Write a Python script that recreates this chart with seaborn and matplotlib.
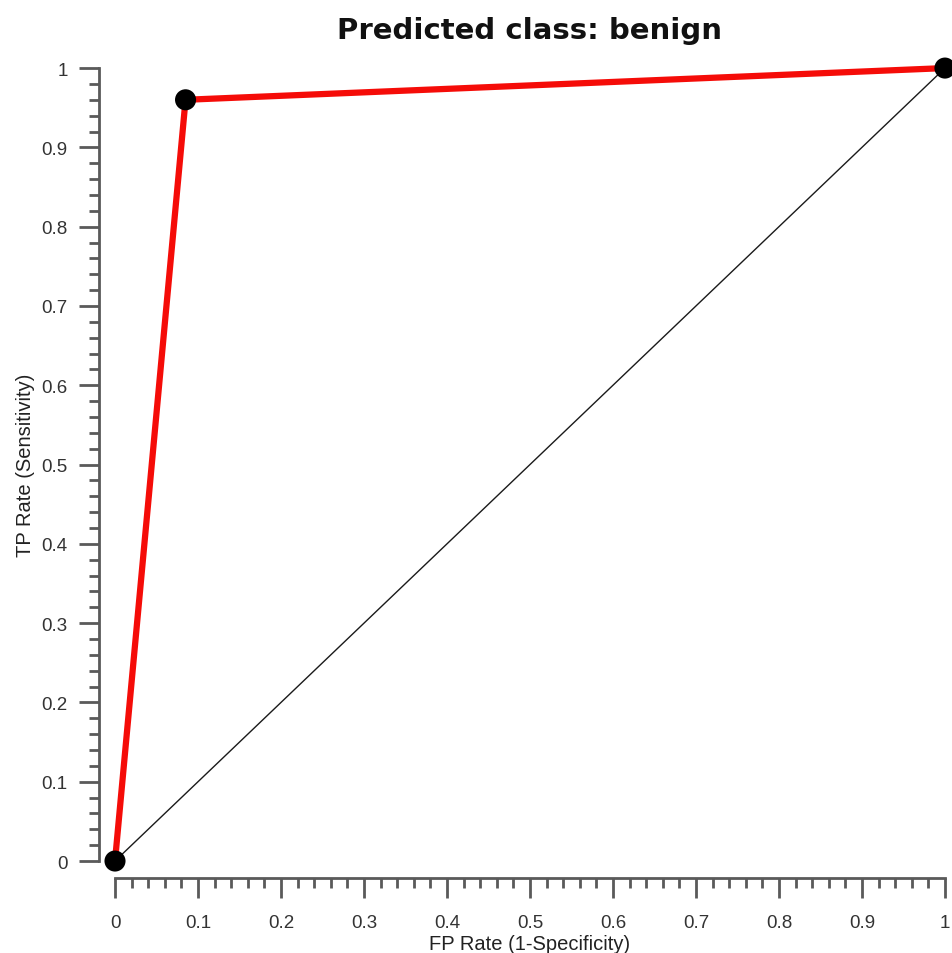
import matplotlib
matplotlib.use('Agg')
import matplotlib.pyplot as plt
from matplotlib.ticker import MultipleLocator
import seaborn as sns
import pandas as pd

# ROC points for the "benign" class
fpr = [0.0, 0.085, 1.0]
tpr = [0.0, 0.96, 1.0]
chance_x = [0.0, 1.0]
chance_y = [0.0, 1.0]

major_ticks = [0.0, 0.1, 0.2, 0.3, 0.4, 0.5, 0.6, 0.7, 0.8, 0.9, 1.0]
tick_labels = ['0', '0.1', '0.2', '0.3', '0.4', '0.5', '0.6', '0.7', '0.8', '0.9', '1']

title = 'Predicted class: benign'
x_label = 'FP Rate (1-Specificity)'
y_label = 'TP Rate (Sensitivity)'

sns.set_style('ticks')
plt.rcParams['font.family'] = ['Liberation Sans', 'DejaVu Sans']

axis_grey = '#5a5a5a'

fig = plt.figure(figsize=(9.52, 9.54), dpi=100)
ax = fig.add_axes([0.1208, 0.0964, 0.8718, 0.8312])

df = pd.DataFrame({'fpr': fpr, 'tpr': tpr})

# chance diagonal
ax.plot(chance_x, chance_y, color='#1a1a1a', lw=1.0, zorder=1)

# ROC curve
sns.lineplot(data=df, x='fpr', y='tpr', color='#f50c08', lw=4.5,
             sort=False, ax=ax, zorder=2, clip_on=False)
sns.scatterplot(data=df, x='fpr', y='tpr', color='black', s=230,
                edgecolor='none', ax=ax, zorder=3, clip_on=False)

ax.set_xlim(0, 1)
ax.set_ylim(0, 1)

ax.set_xticks(major_ticks)
ax.set_xticklabels(tick_labels)
ax.set_yticks(major_ticks)
ax.set_yticklabels(tick_labels)
ax.xaxis.set_minor_locator(MultipleLocator(0.02))
ax.yaxis.set_minor_locator(MultipleLocator(0.02))

for side in ['top', 'right']:
    ax.spines[side].set_visible(False)
ax.spines['left'].set_position(('outward', 11.5))
ax.spines['bottom'].set_position(('outward', 12))
for side in ['left', 'bottom']:
    ax.spines[side].set_bounds(0, 1)
    ax.spines[side].set_linewidth(2.0)
    ax.spines[side].set_color(axis_grey)

ax.tick_params(which='major', length=14.5, width=2.0, color=axis_grey,
               labelsize=13.5, labelcolor='#333333')
ax.tick_params(which='minor', length=7, width=2.0, color=axis_grey)
ax.tick_params(axis='x', which='major', pad=11.5)
ax.tick_params(axis='y', which='major', pad=8)

ax.set_xlabel(x_label, fontsize=14.5, color='#222222', labelpad=2)
ax.set_ylabel(y_label, fontsize=14.5, color='#222222', labelpad=4.5)
ax.set_title(title, fontsize=21, fontweight='bold', family='DejaVu Sans',
             color='#111111', y=1.0, pad=21.5)

plt.savefig('out.png', dpi=100)
plt.close()
